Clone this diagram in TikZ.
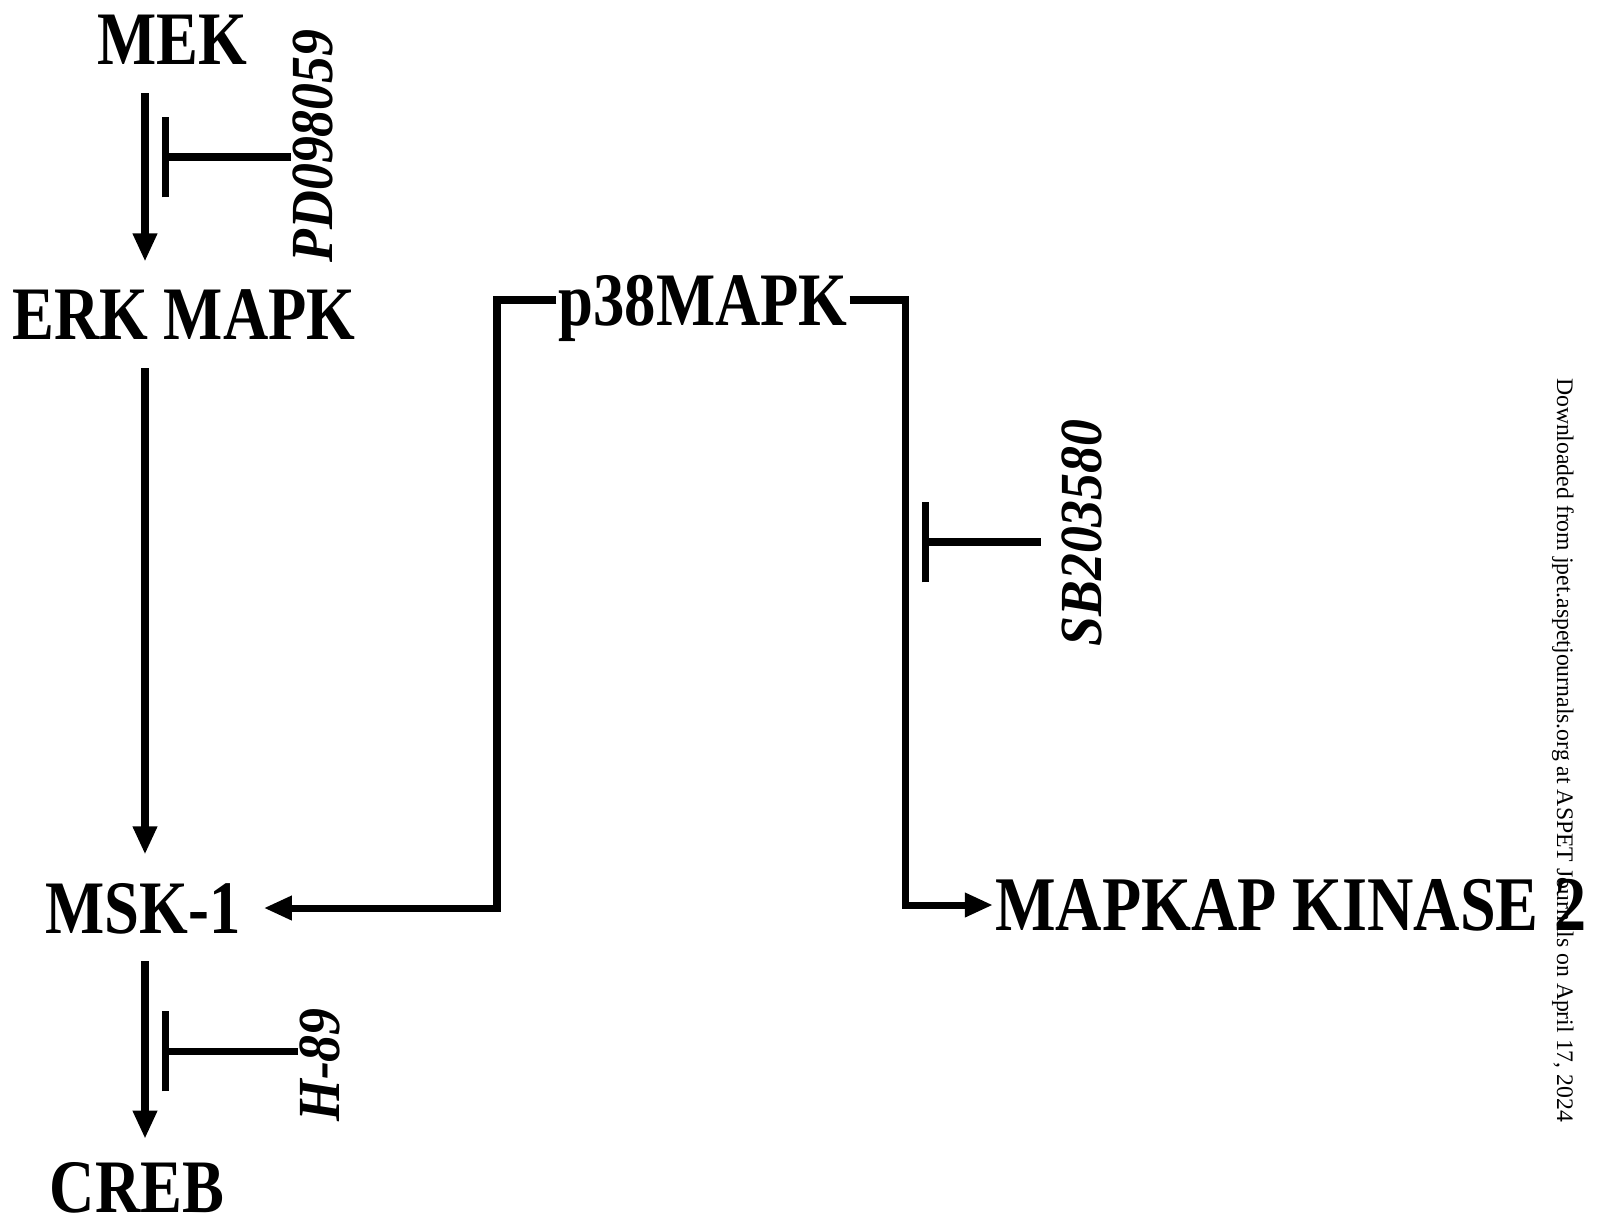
\documentclass[tikz,border=0pt]{standalone}
\usepackage{fontspec}
\setmainfont{Liberation Serif}
\newfontfamily\protfont[FakeStretch=0.83]{Liberation Serif}
\newfontfamily\drugfont[FakeStretch=0.9]{Liberation Serif}
\usepackage{tikz}
\usetikzlibrary{arrows.meta,calc}

\begin{document}
\begin{tikzpicture}[
  x=0.02cm, y=-0.02cm,
  protein/.style={font=\protfont\bfseries\fontsize{43}{50}\selectfont, inner xsep=1pt, inner ysep=16pt, text depth=0pt},
  drug/.style={font=\drugfont\bfseries\itshape\fontsize{34}{40}\selectfont, inner sep=1pt, text depth=0pt, rotate=90},
  act/.style={line width=4pt, -{Triangle[length=16pt,width=13pt]}},
  inhib/.style={line width=4pt, -{Bar[width=46pt]}}
]
\useasboundingbox (0,0) rectangle (1598,1228);
% kinases
\node[protein] (mek) at (172,40) {MEK};
\node[protein] (erk) at (184,315) {ERK MAPK};
\node[protein] (msk) at (143,908) {MSK-1};
\node[protein, inner ysep=3pt] (creb) at (137,1187) {CREB};
\node[protein] (p38) at (703,300) {p38MAPK};
\node[protein, anchor=west, font=\protfont\bfseries\fontsize{44}{51}\selectfont] (mk2) at (993,905) {MAPKAP KINASE 2};
% inhibitors
\node[drug] (pd) at (313,146) {PD098059};
\node[drug] (sb) at (1082,533) {SB203580};
\node[drug] (h89) at (320,1065) {H-89};
% turning points
\coordinate (lane) at (145,0);
\coordinate (lturn) at (497,600);
\coordinate (rturn) at (905,600);
\coordinate (pdt) at (162,157);
\coordinate (sbt) at (922,542);
\coordinate (h89t) at (162,1051);
% cascade
\draw[act] (mek.south -| lane) -- (erk.north -| lane);
\draw[act] (erk.south -| lane) -- (msk.north -| lane);
\draw[act, shorten >=10pt] (msk.south -| lane) -- (creb.north -| lane);
\draw[act, shorten >=12pt] (p38.west) -| (lturn) |- (msk.east);
\draw[act] (p38.east) -| (rturn) |- (mk2.west);
% blocking
\draw[inhib] (pd.north |- pdt) -- (pdt);
\draw[inhib, shorten <=11pt] (sb.north |- sbt) -- (sbt);
\draw[inhib] (h89.north |- h89t) -- (h89t);
% download note
\node[rotate=-90, inner sep=0pt, font=\fontsize{13.5}{16}\selectfont] (note) at (1563,750)
  {Downloaded from jpet.aspetjournals.org at ASPET Journals on April 17, 2024};
\end{tikzpicture}
\end{document}
